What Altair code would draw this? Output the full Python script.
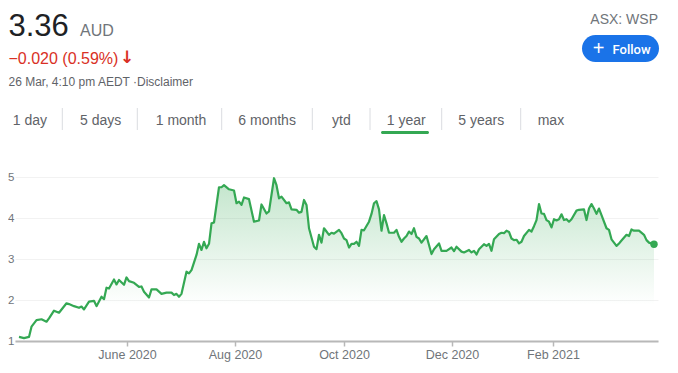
import altair as alt
import pandas as pd

# ---------------- data ----------------
# trading-day index (0 = 26 Mar 2020) and closing price in AUD
day_index = [0, 2, 4, 5, 7, 9, 11, 12, 14, 16, 19, 20, 22, 24, 25, 26, 28, 30, 31, 33,
             34, 35, 36, 38, 39, 40, 42, 43, 44, 46, 48, 49, 50, 52, 53, 55, 57, 59, 61, 62,
             63, 64, 65, 67, 68, 69, 71, 72, 73, 74, 75, 76, 77, 78, 80, 81, 82, 84, 86, 87,
             88, 89, 90, 92, 94, 96, 97, 99, 100, 102, 103, 104, 105, 107, 108, 109, 111, 112, 113, 114,
             115, 116, 118, 119, 120, 121, 122, 123, 124, 125, 126, 128, 129, 130, 131, 132, 133, 134, 135, 136,
             137, 138, 140, 141, 142, 143, 144, 145, 146, 147, 148, 150, 151, 152, 153, 154, 155, 156, 157, 158,
             159, 160, 161, 163, 164, 165, 166, 168, 169, 171, 173, 174, 175, 177, 178, 180, 181, 182, 183, 184,
             186, 187, 188, 189, 190, 192, 193, 194, 195, 196, 197, 198, 199, 200, 201, 202, 204, 205, 206, 207,
             208, 209, 210, 211, 212, 213, 214, 215, 216, 217, 218, 219, 220, 221, 223, 224, 226, 227, 228, 229,
             230, 231, 232, 233, 235, 236, 237, 239, 240, 241, 243, 244, 245, 246, 248, 250, 251, 252, 254]
price = [1.10, 1.07, 1.10, 1.35, 1.51, 1.53, 1.47, 1.55, 1.74, 1.69, 1.92, 1.90, 1.85, 1.81, 1.84, 1.77, 1.96, 1.98, 1.85, 2.08,
         2.02, 2.30, 2.28, 2.50, 2.38, 2.49, 2.37, 2.55, 2.46, 2.42, 2.32, 2.33, 2.20, 2.06, 2.26, 2.26, 2.15, 2.18, 2.18, 2.12,
         2.15, 2.08, 2.15, 2.69, 2.65, 2.73, 3.10, 3.37, 3.22, 3.42, 3.26, 3.37, 3.87, 3.89, 4.75, 4.75, 4.80, 4.70, 4.67, 4.36,
         4.40, 4.32, 4.50, 4.46, 3.91, 3.94, 4.33, 4.11, 4.16, 4.97, 4.80, 4.48, 4.52, 4.36, 4.38, 4.21, 4.20, 4.13, 4.15, 4.44,
         4.32, 3.75, 3.30, 3.24, 3.59, 3.40, 3.75, 3.67, 3.59, 3.64, 3.62, 3.71, 3.63, 3.50, 3.46, 3.28, 3.37, 3.37, 3.42, 3.32,
         3.71, 3.70, 3.91, 4.10, 4.36, 4.41, 4.21, 3.69, 4.07, 3.87, 3.64, 3.64, 3.71, 3.54, 3.42, 3.50, 3.56, 3.67, 3.61, 3.75,
         3.54, 3.50, 3.40, 3.56, 3.34, 3.12, 3.24, 3.38, 3.20, 3.20, 3.28, 3.19, 3.30, 3.18, 3.16, 3.22, 3.16, 3.20, 3.11, 3.24,
         3.36, 3.32, 3.37, 3.20, 3.48, 3.61, 3.64, 3.63, 3.69, 3.66, 3.50, 3.46, 3.47, 3.38, 3.42, 3.56, 3.71, 3.67, 3.80, 3.95,
         4.34, 4.11, 4.10, 3.95, 3.91, 3.77, 3.97, 3.94, 3.97, 4.09, 3.95, 3.97, 3.91, 3.97, 4.18, 4.20, 4.21, 3.95, 4.23, 4.34,
         4.23, 4.10, 4.23, 4.07, 3.75, 3.71, 3.48, 3.32, 3.38, 3.45, 3.59, 3.56, 3.72, 3.69, 3.69, 3.59, 3.46, 3.40, 3.36]

# x-axis month labels and the trading-day index they sit at
month_labels = ["June 2020", "Aug 2020", "Oct 2020", "Dec 2020", "Feb 2021"]
month_index = [43.2, 86.4, 130, 173.2, 213.6]
y_ticks = [1, 2, 3, 4, 5]

# header texts
price_now = "3.36"
currency = "AUD"
change_text = "\u22120.020 (0.59%)"
timestamp = "26 Mar, 4:10 pm AEDT \u00b7Disclaimer"
ticker = "ASX: WSP"
tabs = ["1 day", "5 days", "1 month", "6 months", "ytd", "1 year", "5 years", "max"]
selected_tab = "1 year"

# ---------------- styling / layout ----------------
GREEN = "#34a853"
GREY = "#70757a"
FONT = "Arial, Liberation Sans, sans-serif"
OX, OY = 15, 177            # page position of plot origin
RIGHT = 658                 # page x of plot's right edge
PLOT_W, PLOT_H = RIGHT - OX, 164
PX_PER_DAY, FIRST_PX = 2.5, 19  # horizontal layout of the trading-day axis

tab_x = [12.7, 80, 155.7, 238.3, 332, 386.7, 458.3, 537.7]
sep_x = [62.3, 137.3, 221.7, 312.3, 370, 441.7, 520.7]

df = pd.DataFrame({"i": day_index, "price": price})
one = pd.DataFrame({"k": [0]})

label_expr = ""
for lab, idx in zip(month_labels[:-1], month_index[:-1]):
    label_expr += f"datum.value < {idx + 1} ? '{lab}' : "
label_expr += f"'{month_labels[-1]}'"

x_dom = [(OX - FIRST_PX) / PX_PER_DAY, (RIGHT - FIRST_PX) / PX_PER_DAY]

x_enc = alt.X("i:Q",
              scale=alt.Scale(domain=x_dom, nice=False, zero=False),
              axis=alt.Axis(values=month_index, labelExpr=label_expr, title=None,
                            grid=False, domainColor="#b8b8b8", domainWidth=2,
                            tickColor="#b8b8b8", tickSize=5, tickWidth=1.5,
                            labelColor=GREY, labelFontSize=12.5, labelPadding=2,
                            labelFont=FONT))
y_enc = alt.Y("price:Q",
              scale=alt.Scale(domain=[1, 5], nice=False, zero=False),
              axis=alt.Axis(values=y_ticks, title=None, domain=False, ticks=False,
                            tickSize=0, labelPadding=1, gridColor="#f2f2f2",
                            labelColor=GREY, labelFontSize=11.5, labelFont=FONT))

base = alt.Chart(df)

area = base.mark_area(
    color=alt.Gradient(gradient="linear",
                       stops=[alt.GradientStop(color="rgba(52,168,83,0.30)", offset=0),
                              alt.GradientStop(color="rgba(52,168,83,0.0)", offset=0.78)],
                       x1=1, x2=1, y1=0, y2=1)
).encode(x=x_enc, y=y_enc, y2=alt.datum(1))

line = base.mark_line(color=GREEN, strokeWidth=2.2, strokeJoin="round").encode(x="i:Q", y="price:Q")

dot = base.mark_point(filled=True, color=GREEN, size=55, opacity=1).encode(
    x="i:Q", y="price:Q").transform_filter(f"datum.i == {day_index[-1]}")


def txt(text, px, py, size, color, align="left", weight="normal", baseline="alphabetic", font=FONT):
    return alt.Chart(one).mark_text(
        text=text, align=align, baseline=baseline, fontSize=size, color=color,
        fontWeight=weight, font=font
    ).encode(x=alt.value(px - OX), y=alt.value(py - OY))


layers = [area, line, dot]
layers.append(txt(price_now, 8.5, 36.3, 31, "#202124"))
layers.append(txt(currency, 80, 36, 16, GREY))
layers.append(txt(change_text, 8.5, 64, 16, "#d93025"))
layers.append(txt("\u2193", 127, 63, 17, "#d93025", align="center", weight="bold",
                  font="DejaVu Sans"))
layers.append(txt(timestamp, 8.5, 86, 12, "#5f6368"))
layers.append(txt(ticker, 658, 24, 14, GREY, align="right"))

for t, tx in zip(tabs, tab_x):
    layers.append(txt(t, tx, 125, 14, "#5f6368"))
for sx in sep_x:
    layers.append(alt.Chart(one).mark_rule(color="#dadce0", strokeWidth=1).encode(
        x=alt.value(sx - OX), y=alt.value(108 - OY), y2=alt.value(130 - OY)))

layers.append(alt.Chart(one).mark_rect(color=GREEN, cornerRadius=1.5).encode(
    x=alt.value(381 - OX), x2=alt.value(429 - OX), y=alt.value(131 - OY), y2=alt.value(134 - OY)))

# Follow button
layers.append(alt.Chart(one).mark_rect(color="#1a73e8", cornerRadius=13.5).encode(
    x=alt.value(582 - OX), x2=alt.value(659 - OX), y=alt.value(35 - OY), y2=alt.value(62 - OY)))
layers.append(txt("+", 598.5, 49, 20, "white", align="center", baseline="middle"))
layers.append(txt("Follow", 612.5, 53.5, 13, "white", weight=500, font="Roboto"))

chart = alt.layer(*layers).properties(
    width=PLOT_W, height=PLOT_H,
    autosize=alt.AutoSizeParams(type="none"),
    padding={"left": OX - 8, "top": OY - 8, "right": 12, "bottom": 22},
).configure(font=FONT).configure_view(strokeWidth=0)

chart.save("out.html", embed_options={"renderer": "svg", "actions": False})
